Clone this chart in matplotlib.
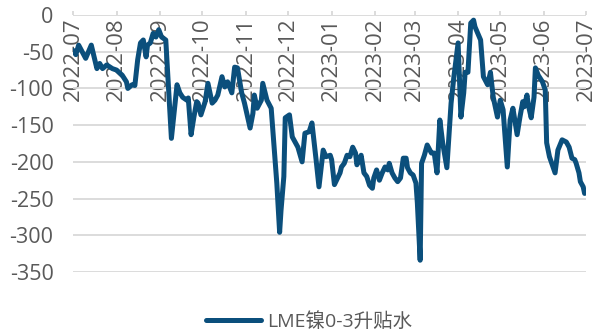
import pandas as pd
import matplotlib.pyplot as plt
import matplotlib.dates as mdates

plt.rcParams['font.family'] = ['Open Sans', 'Noto Sans CJK SC', 'DejaVu Sans']
plt.rcParams['axes.unicode_minus'] = False

# LME镍0-3升贴水
fechas = [
    "2022-07-01", "2022-07-03", "2022-07-05", "2022-07-10", "2022-07-14", "2022-07-18",
    "2022-07-20", "2022-07-22", "2022-07-25", "2022-07-29", "2022-08-01", "2022-08-05",
    "2022-08-08", "2022-08-09", "2022-08-12", "2022-08-14", "2022-08-16", "2022-08-18",
    "2022-08-20", "2022-08-22", "2022-08-23", "2022-08-25", "2022-08-27", "2022-08-29",
    "2022-08-31", "2022-09-02", "2022-09-05", "2022-09-09", "2022-09-13", "2022-09-15",
    "2022-09-17", "2022-09-20", "2022-09-21", "2022-09-23", "2022-09-25", "2022-09-27",
    "2022-09-28", "2022-09-30", "2022-10-03", "2022-10-05", "2022-10-08", "2022-10-10",
    "2022-10-12", "2022-10-15", "2022-10-17", "2022-10-19", "2022-10-22", "2022-10-24",
    "2022-10-26", "2022-10-29", "2022-10-31", "2022-11-04", "2022-11-06", "2022-11-07",
    "2022-11-09", "2022-11-12", "2022-11-13", "2022-11-16", "2022-11-19", "2022-11-23",
    "2022-11-25", "2022-11-26", "2022-11-28", "2022-11-29", "2022-12-02", "2022-12-04",
    "2022-12-08", "2022-12-11", "2022-12-13", "2022-12-16", "2022-12-18", "2022-12-21",
    "2022-12-23", "2022-12-26", "2022-12-28", "2022-12-31", "2023-01-01", "2023-01-03",
    "2023-01-07", "2023-01-08", "2023-01-10", "2023-01-12", "2023-01-14", "2023-01-16",
    "2023-01-18", "2023-01-19", "2023-01-21", "2023-01-22", "2023-01-24", "2023-01-26",
    "2023-01-28", "2023-01-30", "2023-01-31", "2023-02-02", "2023-02-04", "2023-02-06",
    "2023-02-08", "2023-02-10", "2023-02-11", "2023-02-13", "2023-02-15", "2023-02-17",
    "2023-02-19", "2023-02-21", "2023-02-23", "2023-02-24", "2023-02-26", "2023-02-28",
    "2023-03-02", "2023-03-03", "2023-03-05", "2023-03-06", "2023-03-08", "2023-03-10",
    "2023-03-13", "2023-03-15", "2023-03-17", "2023-03-19", "2023-03-21", "2023-03-24",
    "2023-03-27", "2023-03-29", "2023-04-01", "2023-04-03", "2023-04-05", "2023-04-06",
    "2023-04-08", "2023-04-10", "2023-04-12", "2023-04-13", "2023-04-17", "2023-04-19",
    "2023-04-22", "2023-04-24", "2023-04-26", "2023-04-29", "2023-05-01", "2023-05-03",
    "2023-05-06", "2023-05-08", "2023-05-10", "2023-05-13", "2023-05-15", "2023-05-17",
    "2023-05-18", "2023-05-20", "2023-05-21", "2023-05-23", "2023-05-25", "2023-05-26",
    "2023-05-28", "2023-05-31", "2023-06-02", "2023-06-03", "2023-06-05", "2023-06-09",
    "2023-06-11", "2023-06-14", "2023-06-17", "2023-06-19", "2023-06-21", "2023-06-23",
    "2023-06-24", "2023-06-26", "2023-06-27", "2023-06-29", "2023-06-30",
]
valores = [
    -48, -54, -41, -59, -41, -73,
    -66, -73, -68, -73, -75, -82,
    -91, -100, -95, -96, -61, -38,
    -34, -57, -41, -38, -25, -30,
    -20, -30, -34, -168, -95, -106,
    -112, -116, -113, -163, -139, -118,
    -120, -136, -118, -93, -120, -116,
    -109, -84, -98, -91, -106, -71,
    -72, -106, -120, -154, -134, -109,
    -127, -116, -93, -116, -127, -229,
    -296, -266, -220, -140, -136, -166,
    -180, -200, -161, -159, -147, -198,
    -234, -184, -193, -191, -197, -231,
    -215, -207, -202, -191, -193, -180,
    -188, -204, -195, -191, -215, -220,
    -232, -236, -222, -211, -225, -215,
    -207, -211, -202, -215, -222, -227,
    -222, -195, -195, -208, -215, -218,
    -229, -256, -334, -202, -191, -177,
    -188, -188, -215, -143, -174, -208,
    -120, -84, -38, -139, -106, -78,
    -78, -11, -7, -16, -34, -84,
    -95, -78, -112, -139, -116, -129,
    -207, -143, -127, -163, -139, -118,
    -125, -109, -123, -140, -112, -72,
    -82, -91, -102, -174, -193, -215,
    -184, -170, -173, -180, -195, -197,
    -202, -215, -227, -234, -243,
]
serie = "LME镍0-3升贴水"
meses = pd.date_range("2022-07-01", "2023-07-01", freq="MS")
y_ticks = list(range(-350, 1, 50))

df = pd.DataFrame({"fecha": pd.to_datetime(fechas), "valor": valores})

gris = "#595959"
fig = plt.figure(figsize=(6.06, 3.30), dpi=100)
ax = fig.add_axes([0.1205, 0.1758, 0.8465, 0.7787])

ax.plot(df.fecha, df.valor, color="#0b4f7c", lw=3.6, label=serie,
        solid_joinstyle="round", solid_capstyle="round", zorder=3)

ax.set_xlim(meses[0], meses[-1])
ax.set_ylim(-350, 0)

# eje y
ax.set_yticks(y_ticks, [str(v) for v in y_ticks])
ax.tick_params(axis="y", length=0, pad=14, labelsize=15.5, labelcolor=gris)
ax.grid(True, axis="y", color="#d9d9d9", lw=1.3, zorder=0)

# eje x arriba, etiquetas hacia dentro
ax.xaxis.tick_top()
ax.set_xticks(meses, [m.strftime("%Y-%m") for m in meses], rotation=90, va="top")
ax.tick_params(axis="x", top=True, bottom=False, labeltop=True, labelbottom=False,
               direction="out", length=3, width=1.3, color="#d9d9d9",
               pad=-5, labelsize=16, labelcolor=gris)

for s in ax.spines.values():
    s.set_visible(False)

fig.legend(loc="center", bbox_to_anchor=(0.51, 0.025), frameon=False,
           fontsize=14, handlelength=2.8, handletextpad=0.3, labelcolor=gris)

plt.savefig("out.png", dpi=100)
